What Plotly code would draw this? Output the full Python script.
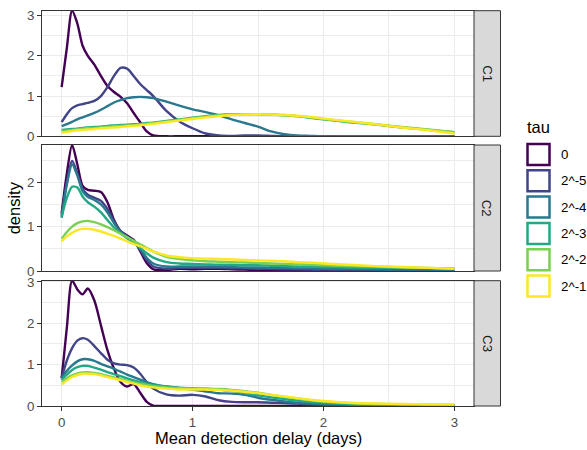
import plotly.graph_objects as go

W, H = 587, 450

# ---------------- data ----------------
X = [0, 0.04, 0.08, 0.12, 0.16, 0.2, 0.25, 0.3, 0.35, 0.4, 0.45, 0.5, 0.55, 0.6, 0.65, 0.7,
     0.8, 0.9, 1.0, 1.1, 1.2, 1.3, 1.4, 1.5, 1.6, 1.7, 1.8, 1.9, 2.0, 2.2, 2.4, 2.6, 2.8, 3.0]

TAU_LABELS = ["0", "2^-5", "2^-4", "2^-3", "2^-2", "2^-1"]
PANELS = ["C1", "C2", "C3"]

C1_T0 = [1.22, 2.2, 3.12, 2.8, 2.25, 2.0, 1.78, 1.5, 1.25, 1.1, 0.98, 0.82, 0.58, 0.35, 0.12, 0.02,
         0, 0, 0, 0, 0, 0, 0, 0, 0, 0, 0, 0, 0, 0, 0, 0, 0, 0]
C1_T5 = [0.35, 0.55, 0.7, 0.77, 0.8, 0.83, 0.88, 1.0, 1.22, 1.5, 1.7, 1.68, 1.5, 1.3, 1.15, 1.0,
         0.63, 0.37, 0.2, 0.07, 0.02, 0.01, 0.02, 0.02, 0.01, 0, 0, 0, 0, 0, 0, 0, 0, 0]
C1_T4 = [0.25, 0.3, 0.36, 0.42, 0.47, 0.52, 0.58, 0.66, 0.75, 0.84, 0.9, 0.95, 0.97, 0.98, 0.97, 0.95,
         0.86, 0.76, 0.67, 0.6, 0.52, 0.42, 0.33, 0.24, 0.12, 0.05, 0.02, 0.01, 0, 0, 0, 0, 0, 0]
C1_T3 = [0.16, 0.17, 0.18, 0.19, 0.21, 0.22, 0.23, 0.24, 0.26, 0.27, 0.28, 0.29, 0.3, 0.31, 0.33, 0.34,
         0.38, 0.42, 0.46, 0.5, 0.53, 0.55, 0.55, 0.55, 0.54, 0.52, 0.5, 0.46, 0.42, 0.35, 0.29, 0.22, 0.16, 0.1]
C1_T2 = [0.13, 0.14, 0.16, 0.17, 0.19, 0.2, 0.21, 0.22, 0.24, 0.25, 0.26, 0.27, 0.28, 0.3, 0.31, 0.33,
         0.37, 0.41, 0.45, 0.49, 0.52, 0.54, 0.55, 0.55, 0.54, 0.53, 0.5, 0.47, 0.43, 0.36, 0.3, 0.23, 0.17, 0.1]
C1_T1 = [0.09, 0.11, 0.13, 0.15, 0.16, 0.17, 0.18, 0.2, 0.21, 0.22, 0.23, 0.25, 0.26, 0.27, 0.29, 0.31,
         0.35, 0.39, 0.43, 0.47, 0.5, 0.53, 0.54, 0.55, 0.54, 0.53, 0.51, 0.48, 0.44, 0.37, 0.3, 0.22, 0.15, 0.07]

C2_T0 = [1.3, 2.2, 2.84, 2.4, 1.92, 1.83, 1.81, 1.78, 1.55, 1.15, 0.9, 0.8, 0.7, 0.45, 0.18, 0.04,
         0.02, 0.05, 0.04, 0.05, 0.05, 0.04, 0.03, 0.02, 0.01, 0.01, 0, 0, 0, 0, 0, 0, 0, 0]
C2_T5 = [1.25, 2.0, 2.48, 2.2, 1.85, 1.72, 1.65, 1.58, 1.4, 1.12, 0.9, 0.78, 0.68, 0.48, 0.25, 0.1,
         0.05, 0.07, 0.07, 0.07, 0.07, 0.06, 0.06, 0.05, 0.05, 0.04, 0.04, 0.03, 0.03, 0.02, 0.02, 0.01, 0.01, 0.01]
C2_T4 = [1.2, 1.95, 2.4, 2.15, 1.8, 1.67, 1.6, 1.5, 1.32, 1.08, 0.88, 0.77, 0.67, 0.5, 0.3, 0.17,
         0.1, 0.1, 0.1, 0.1, 0.1, 0.09, 0.08, 0.08, 0.07, 0.07, 0.06, 0.06, 0.05, 0.05, 0.04, 0.03, 0.03, 0.02]
C2_T3 = [1.22, 1.65, 1.9, 1.88, 1.68, 1.55, 1.45, 1.32, 1.15, 0.98, 0.85, 0.74, 0.65, 0.52, 0.4, 0.3,
         0.2, 0.17, 0.16, 0.15, 0.14, 0.14, 0.13, 0.13, 0.12, 0.11, 0.1, 0.1, 0.09, 0.08, 0.07, 0.07, 0.06, 0.06]
C2_T2 = [0.73, 0.88, 1.0, 1.08, 1.12, 1.13, 1.1, 1.05, 0.99, 0.92, 0.84, 0.76, 0.68, 0.6, 0.52, 0.44,
         0.32, 0.27, 0.24, 0.22, 0.21, 0.2, 0.19, 0.18, 0.17, 0.16, 0.15, 0.14, 0.13, 0.11, 0.1, 0.08, 0.07, 0.05]
C2_T1 = [0.67, 0.78, 0.86, 0.92, 0.95, 0.95, 0.93, 0.89, 0.84, 0.79, 0.73, 0.67, 0.61, 0.56, 0.5, 0.44,
         0.35, 0.31, 0.29, 0.28, 0.27, 0.26, 0.25, 0.24, 0.23, 0.22, 0.2, 0.19, 0.17, 0.14, 0.11, 0.09, 0.07, 0.05]

C3_T0 = [0.67, 1.9, 3.03, 2.82, 2.7, 2.84, 2.55, 1.95, 1.35, 0.9, 0.58, 0.47, 0.53, 0.32, 0.1, 0.01,
         0, 0, 0, 0, 0, 0, 0, 0, 0, 0, 0, 0, 0, 0, 0, 0, 0, 0]
C3_T5 = [0.68, 1.1, 1.4, 1.58, 1.64, 1.6, 1.45, 1.28, 1.12, 1.03, 1.0, 0.99, 0.93, 0.78, 0.58, 0.42,
         0.28, 0.25, 0.27, 0.23, 0.14, 0.1, 0.09, 0.09, 0.08, 0.07, 0.06, 0.04, 0.03, 0.02, 0.01, 0.01, 0.0, 0.0]
C3_T4 = [0.68, 0.85, 0.98, 1.08, 1.13, 1.13, 1.09, 1.02, 0.96, 0.9, 0.83, 0.76, 0.7, 0.64, 0.58, 0.53,
         0.47, 0.43, 0.4, 0.35, 0.31, 0.3, 0.27, 0.2, 0.15, 0.11, 0.08, 0.06, 0.05, 0.03, 0.02, 0.02, 0.01, 0.01]
C3_T3 = [0.63, 0.76, 0.87, 0.94, 0.97, 0.97, 0.93, 0.88, 0.82, 0.77, 0.72, 0.67, 0.62, 0.58, 0.54, 0.51,
         0.47, 0.44, 0.43, 0.42, 0.4, 0.36, 0.31, 0.26, 0.21, 0.17, 0.13, 0.1, 0.08, 0.05, 0.04, 0.03, 0.02, 0.02]
C3_T2 = [0.58, 0.67, 0.74, 0.79, 0.81, 0.82, 0.8, 0.77, 0.73, 0.69, 0.65, 0.61, 0.57, 0.54, 0.51, 0.48,
         0.45, 0.43, 0.42, 0.42, 0.41, 0.39, 0.36, 0.32, 0.27, 0.22, 0.18, 0.14, 0.11, 0.07, 0.05, 0.04, 0.03, 0.03]
C3_T1 = [0.52, 0.62, 0.7, 0.75, 0.78, 0.78, 0.77, 0.74, 0.7, 0.66, 0.62, 0.58, 0.54, 0.5, 0.47, 0.45,
         0.42, 0.4, 0.4, 0.4, 0.39, 0.37, 0.34, 0.31, 0.27, 0.23, 0.19, 0.15, 0.12, 0.08, 0.06, 0.05, 0.04, 0.04]

SERIES = [
    [C1_T0, C1_T5, C1_T4, C1_T3, C1_T2, C1_T1],
    [C2_T0, C2_T5, C2_T4, C2_T3, C2_T2, C2_T1],
    [C3_T0, C3_T5, C3_T4, C3_T3, C3_T2, C3_T1],
]

COLORS = ["#440154", "#414487", "#2A788E", "#22A884", "#7AD151", "#FDE725"]

# ---------------- layout helpers ----------------
def px_x(p):
    return p / W

def px_y(p):
    return 1 - p / H

PANEL_L, PANEL_R = 42, 474
STRIP_R = 500.5
PANEL_TB = [(10.7, 136.3), (145.0, 271.0), (280.7, 406.0)]

FONT = "Liberation Sans, Arial, sans-serif"
GRID = "#EBEBEB"
DARK = "#333333"
SMALL = 13.3
BIG = 16.5

fig = go.Figure()

for i, panel in enumerate(PANELS):
    ax = "" if i == 0 else str(i + 1)
    for j, ys in enumerate(SERIES[i]):
        fig.add_trace(go.Scatter(
            x=X, y=ys, mode="lines",
            line=dict(color=COLORS[j], width=2.4, shape="spline", smoothing=0.8),
            xaxis="x" + ax, yaxis="y" + ax,
            name=TAU_LABELS[j], showlegend=False, hoverinfo="skip",
        ))

layout = dict(
    width=W, height=H,
    margin=dict(l=0, r=0, t=0, b=0),
    plot_bgcolor="white", paper_bgcolor="white",
    font=dict(family=FONT, color="#1A1A1A"),
    showlegend=False,
)

shapes = []
annotations = []

for i, panel in enumerate(PANELS):
    key = "" if i == 0 else str(i + 1)
    top, bot = PANEL_TB[i]
    ymax = max(max(s) for s in SERIES[i])
    bottom = (i == len(PANELS) - 1)
    layout["xaxis" + key] = dict(
        domain=[px_x(PANEL_L), px_x(PANEL_R)],
        anchor="y" + key,
        range=[-0.15, 3.15],
        tick0=0, dtick=1,
        showgrid=True, gridcolor=GRID, gridwidth=1.1,
        minor=dict(dtick=0.5, tick0=0, showgrid=True, gridcolor=GRID, gridwidth=0.55),
        zeroline=False,
        showline=True, mirror=True, linecolor=DARK, linewidth=1,
        ticks="outside" if bottom else "", ticklen=4, tickcolor=DARK, tickwidth=1,
        showticklabels=bottom,
        tickfont=dict(size=SMALL, color="#4D4D4D", family=FONT),
        automargin=False,
        fixedrange=True,
    )
    layout["yaxis" + key] = dict(
        domain=[px_y(bot), px_y(top)],
        anchor="x" + key,
        range=[0, ymax],
        tick0=0, dtick=1,
        showgrid=True, gridcolor=GRID, gridwidth=1.1,
        minor=dict(dtick=0.5, tick0=0, showgrid=True, gridcolor=GRID, gridwidth=0.55),
        zeroline=False,
        showline=True, mirror=True, linecolor=DARK, linewidth=1,
        ticks="outside", ticklen=4, tickcolor=DARK, tickwidth=1,
        tickfont=dict(size=SMALL, color="#4D4D4D", family=FONT),
        automargin=False,
        fixedrange=True,
    )
    # facet strip
    shapes.append(dict(
        type="rect", xref="paper", yref="paper",
        x0=px_x(PANEL_R), x1=px_x(STRIP_R), y0=px_y(bot), y1=px_y(top),
        fillcolor="#D9D9D9", line=dict(color=DARK, width=1), layer="above",
    ))
    annotations.append(dict(
        text=panel, xref="paper", yref="paper",
        x=px_x((PANEL_R + STRIP_R) / 2), y=px_y((top + bot) / 2),
        xanchor="center", yanchor="middle", textangle=90, showarrow=False,
        font=dict(size=SMALL, color="#1A1A1A", family=FONT),
    ))

# axis titles
annotations.append(dict(
    text="Mean detection delay (days)", xref="paper", yref="paper",
    x=px_x((PANEL_L + PANEL_R) / 2), y=px_y(437.5), xanchor="center", yanchor="middle",
    showarrow=False, font=dict(size=BIG, color="#000000", family=FONT),
))
annotations.append(dict(
    text="density", xref="paper", yref="paper",
    x=px_x(14), y=px_y((PANEL_TB[0][0] + PANEL_TB[2][1]) / 2), xanchor="center", yanchor="middle",
    textangle=-90, showarrow=False, font=dict(size=BIG, color="#000000", family=FONT),
))

# legend (drawn manually, ggplot-style outlined keys)
annotations.append(dict(
    text="tau", xref="paper", yref="paper",
    x=px_x(525), y=px_y(127), xanchor="left", yanchor="middle",
    showarrow=False, font=dict(size=BIG, color="#000000", family=FONT),
))
KEY_TOP, KEY_STEP, KEY_H = 144.0, 26.3, 21.0
for j, lab in enumerate(TAU_LABELS):
    y0 = KEY_TOP + KEY_STEP * j
    shapes.append(dict(
        type="rect", xref="paper", yref="paper",
        x0=px_x(527.5), x1=px_x(549.5), y0=px_y(y0 + KEY_H), y1=px_y(y0),
        fillcolor="rgba(255,255,255,0)", line=dict(color=COLORS[j], width=2.5),
    ))
    annotations.append(dict(
        text=lab, xref="paper", yref="paper",
        x=px_x(559), y=px_y(y0 + KEY_H / 2), xanchor="left", yanchor="middle",
        showarrow=False, font=dict(size=SMALL, color="#000000", family=FONT),
    ))

layout["shapes"] = shapes
layout["annotations"] = annotations
fig.update_layout(**layout)

fig.write_html("out.html")
